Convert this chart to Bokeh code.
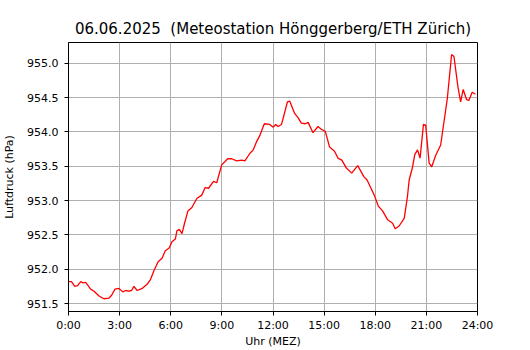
from bokeh.plotting import figure
from bokeh.models import FixedTicker, Range1d, PrintfTickFormatter
from bokeh.embed import file_html
from bokeh.resources import INLINE

title_text = "06.06.2025\u00a0 (Meteostation Hönggerberg/ETH Zürich)"
x_label = "Uhr (MEZ)"
y_label = "Luftdruck (hPa)"

hours = [0.0, 0.175, 0.37, 0.53, 0.72, 0.86, 1.01, 1.30, 1.50, 1.79, 2.08, 2.38, 2.53, 2.73,
         2.96, 3.19, 3.35, 3.54, 3.70, 3.84, 4.03, 4.32, 4.61, 4.81, 5.00, 5.26, 5.49, 5.68,
         5.91, 6.07, 6.27, 6.36, 6.50, 6.66, 6.81, 7.01, 7.24, 7.53, 7.82, 8.02, 8.22, 8.51,
         8.70, 8.99, 9.34, 9.58, 9.87, 10.16, 10.35, 10.65, 10.84, 11.04, 11.23, 11.49, 11.81,
         12.01, 12.16, 12.30, 12.50, 12.85, 12.98, 13.27, 13.47, 13.66, 13.90, 14.06, 14.35,
         14.64, 14.83, 15.07, 15.32, 15.61, 15.81, 16.04, 16.29, 16.62, 16.97, 17.33, 17.52,
         17.75, 17.94, 18.18, 18.43, 18.73, 19.02, 19.17, 19.40, 19.70, 19.89, 19.99, 20.19,
         20.32, 20.48, 20.63, 20.83, 20.96, 21.16, 21.31, 21.55, 21.84, 22.23, 22.48, 22.62,
         22.85, 23.01, 23.16, 23.36, 23.49, 23.69, 23.88]
pressure = [951.82, 951.82, 951.75, 951.76, 951.82, 951.80, 951.81, 951.71, 951.68, 951.61,
            951.57, 951.58, 951.62, 951.71, 951.72, 951.67, 951.69, 951.68, 951.69, 951.75,
            951.69, 951.72, 951.78, 951.85, 951.97, 952.11, 952.16, 952.27, 952.31, 952.40,
            952.44, 952.56, 952.58, 952.52, 952.67, 952.85, 952.90, 953.03, 953.08, 953.19,
            953.18, 953.28, 953.26, 953.52, 953.61, 953.61, 953.58, 953.59, 953.58, 953.69,
            953.74, 953.86, 953.95, 954.12, 954.11, 954.07, 954.11, 954.08, 954.11, 954.44,
            954.45, 954.27, 954.21, 954.13, 954.12, 954.14, 953.99, 954.08, 954.04, 954.01,
            953.78, 953.72, 953.62, 953.59, 953.48, 953.40, 953.51, 953.35, 953.30, 953.18,
            953.08, 952.92, 952.85, 952.72, 952.67, 952.59, 952.63, 952.74, 953.06, 953.30,
            953.49, 953.67, 953.74, 953.62, 954.11, 954.10, 953.55, 953.49, 953.66, 953.81,
            954.49, 955.13, 955.10, 954.66, 954.44, 954.62, 954.47, 954.46, 954.58, 954.55]

x_ticks = [0, 3, 6, 9, 12, 15, 18, 21, 24]
x_tick_labels = ["0:00", "3:00", "6:00", "9:00", "12:00", "15:00", "18:00", "21:00", "24:00"]
y_ticks = [951.5, 952.0, 952.5, 953.0, 953.5, 954.0, 954.5, 955.0]

FONT = "DejaVu Sans"

p = figure(width=530, height=350, output_backend="svg", toolbar_location=None,
           x_range=Range1d(0, 24), y_range=Range1d(951.384, 955.304),
           min_border_left=66, min_border_right=53, min_border_top=42, min_border_bottom=37)

p.title.text = title_text
p.title.text_font = FONT
p.title.text_font_size = "15px"
p.title.text_font_style = "normal"
p.title.align = "center"
p.title.text_color = "black"

p.line(hours, pressure, line_color="red", line_width=1.3)

p.xaxis.ticker = FixedTicker(ticks=x_ticks)
p.xaxis.major_label_overrides = {t: l for t, l in zip(x_ticks, x_tick_labels)}
p.yaxis.ticker = FixedTicker(ticks=y_ticks)
p.yaxis.formatter = PrintfTickFormatter(format="%.1f")
p.xaxis.axis_label = x_label
p.yaxis.axis_label = y_label

for ax in (p.xaxis, p.yaxis):
    ax.minor_tick_line_color = None
    ax.major_tick_in = 0
    ax.major_tick_out = 4
    ax.axis_line_color = "black"
    ax.major_tick_line_color = "black"
    ax.major_label_text_font = FONT
    ax.major_label_text_font_size = "11px"
    ax.major_label_text_color = "black"
    ax.axis_label_text_font = FONT
    ax.axis_label_text_font_size = "11px"
    ax.axis_label_text_font_style = "normal"
    ax.axis_label_text_color = "black"

p.xaxis.major_label_standoff = 3
p.xaxis.axis_label_standoff = 0
p.yaxis.major_label_standoff = 6
p.yaxis.axis_label_standoff = 8

p.grid.grid_line_color = "#b0b0b0"
p.grid.grid_line_width = 1
p.xgrid.ticker = FixedTicker(ticks=x_ticks)
p.ygrid.ticker = FixedTicker(ticks=y_ticks)

p.outline_line_color = "black"
p.outline_line_width = 1
p.outline_line_alpha = 1
p.background_fill_color = "white"
p.border_fill_color = "white"

open("out.html", "w").write(file_html(p, INLINE))
